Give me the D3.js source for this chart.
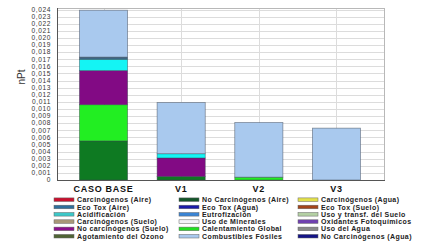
<!DOCTYPE html>
<html>
<head>
<meta charset="utf-8">
<script src="https://cdn.jsdelivr.net/npm/d3@7"></script>
<style>
  body { margin: 0; background: #fff; }
  svg { display: block; font-family: Arial, "Liberation Sans", sans-serif; }
</style>
</head>
<body>
<div id="chart"></div>
<script>
const categories = ["CASO BASE", "V1", "V2", "V3"];

// stacked from the bottom up
const stackKeys = ["No Carcinógenos (Aire)", "Calentamiento Global", "No carcinógenos (Suelo)",
    "Acidificación", "Eco Tox (Aire)", "Combustibles Fósiles"];
const noCarcAire = [0.0055, 0.0005, 0, 0];
const calentamiento = [0.0051, 0, 0.0004, 0];
const noCarcSuelo = [0.0048, 0.0026, 0, 0];
const acidificacion = [0.0016, 0.0006, 0, 0];
const ecoToxAire = [0.0003, 0, 0, 0];
const combustibles = [0.0066, 0.0072, 0.0077, 0.0073];

const yTicks = d3.range(0, 25).map((i) => i / 1000);

const legendItems = [
    "Carcinógenos (Aire)", "No Carcinógenos (Aire)", "Carcinógenos (Agua)",
    "Eco Tox (Aire)", "Eco Tox (Agua)", "Eco Tox (Suelo)",
    "Acidificación", "Eutrofización", "Uso y transf. del Suelo",
    "Carcinógenos (Suelo)", "Uso de Minerales", "Oxidantes Fotoquímicos",
    "No carcinógenos (Suelo)", "Calentamiento Global", "Uso del Agua",
    "Agotamiento del Ozono", "Combustibles Fósiles", "No Carcinógenos (Agua)"
];
const legendColors = [
    "#c8102e", "#14552a", "#e2e04a",
    "#2f6f9c", "#1a1aa8", "#a4441a",
    "#3cc8c8", "#3a84d4", "#b4d0a4",
    "#a89878", "#f2f2f8", "#7040b0",
    "#8c108c", "#22e022", "#8a8a8a",
    "#4f6434", "#a9c9ee", "#141486"
];

const width = 428, height = 247;
const plot = { left: 57, top: 8, right: 384, bottom: 180 };

const color = d3.scaleOrdinal().domain(legendItems).range(legendColors);
// bars in the plot use slightly brighter tones of the same entries
const barColor = d3.scaleOrdinal().domain(stackKeys)
    .range(["#0e7a22", "#22ee22", "#820a84", "#14f4f4", "#3c6a8a", "#a9c9ee"]);

const rows = categories.map((c, i) => ({
    cat: c,
    "No Carcinógenos (Aire)": noCarcAire[i],
    "Calentamiento Global": calentamiento[i],
    "No carcinógenos (Suelo)": noCarcSuelo[i],
    "Acidificación": acidificacion[i],
    "Eco Tox (Aire)": ecoToxAire[i],
    "Combustibles Fósiles": combustibles[i]
}));

const svg = d3.select("#chart").append("svg")
    .attr("width", width).attr("height", height);

const x = d3.scaleBand().domain(categories).range([64.7, 375.3]).paddingInner(0.38).paddingOuter(0.19);
const y = d3.scaleLinear().domain([0, 0.024]).range([plot.bottom, plot.top + 1.5]);

// grid
svg.append("g").selectAll("line").data(yTicks.slice(1)).join("line")
    .attr("x1", plot.left).attr("x2", plot.right)
    .attr("y1", (d) => Math.round(y(d)) + 0.5).attr("y2", (d) => Math.round(y(d)) + 0.5)
    .attr("stroke", "#dcdcdc").attr("stroke-width", 1);

svg.append("g").selectAll("line").data(categories).join("line")
    .attr("x1", (d) => Math.round(x(d) + x.bandwidth() / 2) + 0.5)
    .attr("x2", (d) => Math.round(x(d) + x.bandwidth() / 2) + 0.5)
    .attr("y1", plot.top).attr("y2", plot.bottom)
    .attr("stroke", "#dcdcdc");

// frame
svg.append("rect")
    .attr("x", plot.left + 0.5).attr("y", plot.top + 0.5)
    .attr("width", plot.right - plot.left).attr("height", plot.bottom - plot.top)
    .attr("fill", "none").attr("stroke", "#b8b8b8");

// stacked bars
const series = d3.stack().keys(stackKeys)(rows);
svg.append("g").selectAll("g").data(series).join("g")
    .attr("fill", (d) => barColor(d.key))
    .selectAll("rect").data((d) => d.filter((p) => p[1] - p[0] > 0)).join("rect")
    .attr("x", (d) => x(d.data.cat))
    .attr("width", x.bandwidth())
    .attr("y", (d) => y(d[1]))
    .attr("height", (d) => y(d[0]) - y(d[1]))
    .attr("stroke", "#3a4450").attr("stroke-opacity", 0.55).attr("stroke-width", 0.8);

// axes lines
svg.append("line").attr("x1", plot.left + 0.5).attr("x2", plot.left + 0.5)
    .attr("y1", plot.top).attr("y2", plot.bottom + 1).attr("stroke", "#555");
svg.append("line").attr("x1", plot.left).attr("x2", plot.right + 1)
    .attr("y1", plot.bottom + 0.5).attr("y2", plot.bottom + 0.5).attr("stroke", "#555");

// y tick labels
svg.append("g").selectAll("text").data(yTicks).join("text")
    .attr("x", 51).attr("y", (d) => y(d) + 2.3)
    .attr("text-anchor", "end").attr("font-size", 6.6).attr("letter-spacing", 0.6)
    .attr("fill", "#333")
    .text((d) => d === 0 ? "0" : d3.format(".3f")(d).replace(".", ","));

svg.append("text")
    .attr("transform", "translate(25,77) rotate(-90)")
    .attr("text-anchor", "middle").attr("font-size", 10).attr("fill", "#333")
    .text("nPt");

// x labels
svg.append("g").selectAll("text").data(categories).join("text")
    .attr("x", (d) => x(d) + x.bandwidth() / 2).attr("y", 192)
    .attr("text-anchor", "middle").attr("font-size", 9).attr("font-weight", 700)
    .attr("letter-spacing", 0.7).attr("fill", "#111")
    .text((d) => d);

// legend, three columns
const colX = [54, 179, 298];
const legend = svg.append("g").selectAll("g").data(legendItems).join("g")
    .attr("transform", (d, i) => `translate(${colX[i % 3]},${199.7 + Math.floor(i / 3) * 7.3})`);
legend.append("rect")
    .attr("x", 0).attr("y", -1.8).attr("width", 20).attr("height", 3.6)
    .attr("fill", (d) => color(d))
    .attr("stroke", "#666").attr("stroke-width", 0.5);
legend.append("text")
    .attr("x", 23).attr("y", 2.5)
    .attr("font-size", 7).attr("font-weight", 700).attr("letter-spacing", 0.4)
    .attr("fill", "#222")
    .text((d) => d);
</script>
</body>
</html>
